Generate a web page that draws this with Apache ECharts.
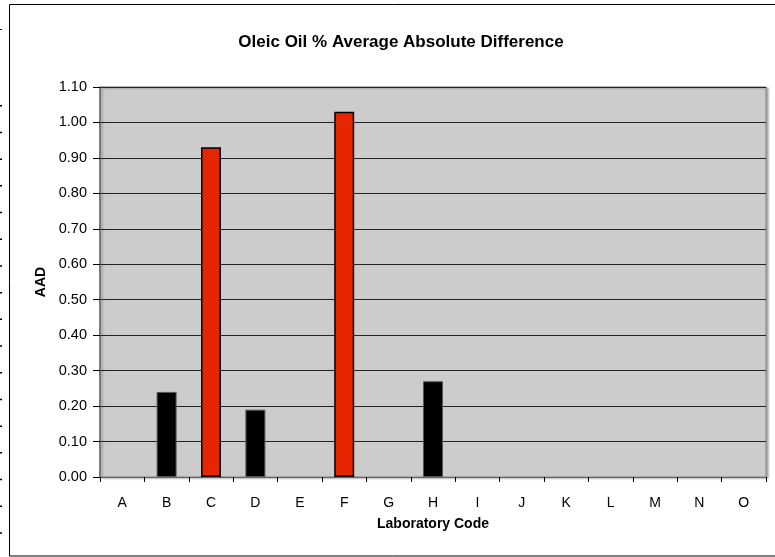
<!DOCTYPE html>
<html>
<head>
<meta charset="utf-8">
<script src="https://cdn.jsdelivr.net/npm/echarts@6/dist/echarts.min.js"></script>
<style>html,body{margin:0;padding:0;background:#fff;}#c{width:775px;height:557px;}</style>
</head>
<body>
<div id="c"></div>
<script>
var categories = ['A','B','C','D','E','F','G','H','I','J','K','L','M','N','O'];
var aadValues = [0, 0.24, 0.93, 0.19, 0, 1.03, 0, 0.27, 0, 0, 0, 0, 0, 0, 0];
var flagged = [false, false, true, false, false, true, false, false, false, false, false, false, false, false, false];

var chart = echarts.init(document.getElementById('c'));
var data = aadValues.map(function (v, i) {
  var style = flagged[i]
    ? { color: '#e62600', borderColor: '#000', borderWidth: 1.5 }
    : { color: '#000', borderColor: '#555', borderWidth: 1 };
  if (v === 0) { style.borderWidth = 0; }
  return { value: v, itemStyle: style };
});
chart.setOption({
  animation: false,
  title: {
    text: 'Oleic Oil % Average Absolute Difference',
    left: 396, top: 29, textAlign: 'center',
    textStyle: { fontFamily: 'Liberation Sans, Arial', fontSize: 17, fontWeight: 'bold', color: '#000' }
  },
  graphic: [
    { type: 'rect', shape: { x: 9.5, y: 4.5, width: 800, height: 551.5 }, style: { fill: 'none', stroke: '#000', lineWidth: 1 }, silent: true },
    { type: 'line', shape: { x1: 1, y1: 29, x2: 1, y2: 30 }, style: { stroke: '#000', lineWidth: 2 } },
    { type: 'line', shape: { x1: 1, y1: 105, x2: 1, y2: 557 }, style: { stroke: '#000', lineWidth: 2, lineDash: [1.5, 25.2] } }
  ],
  grid: {
    left: 100, right: 9, top: 87, bottom: 80,
    show: true, backgroundColor: '#cccccc', borderColor: '#888', borderWidth: 1,
    shadowColor: 'rgba(0,0,0,0.35)', shadowBlur: 2, shadowOffsetX: 2, shadowOffsetY: 1
  },
  xAxis: {
    type: 'category', data: categories,
    name: 'Laboratory Code', nameLocation: 'middle', nameGap: 40,
    nameTextStyle: { fontFamily: 'Liberation Sans, Arial', fontSize: 14, fontWeight: 'bold', color: '#000' },
    axisLine: { lineStyle: { color: '#666', width: 1 } },
    axisTick: { show: true, alignWithLabel: false, length: 5, lineStyle: { color: '#000' } },
    axisLabel: { fontFamily: 'Liberation Sans, Arial', fontSize: 14, color: '#000', margin: 19 },
    splitLine: { show: false }
  },
  yAxis: {
    type: 'value', min: 0, max: 1.1, interval: 0.1,
    name: 'AAD', nameLocation: 'middle', nameGap: 52, nameRotate: 90,
    nameTextStyle: { fontFamily: 'Liberation Sans, Arial', fontSize: 14, fontWeight: 'bold', color: '#000' },
    axisLine: { show: true, lineStyle: { color: '#666', width: 1.5 } },
    axisTick: { show: true, length: 7, inside: false, lineStyle: { color: '#000' } },
    axisLabel: { fontFamily: 'Liberation Sans, Arial', fontSize: 14.5, color: '#000', margin: 13,
      formatter: function (v) { return v.toFixed(2); } },
    splitLine: { show: true, lineStyle: { color: '#222', width: 1 } }
  },
  series: [{
    type: 'bar', data: data, barWidth: '45%'
  }]
});
</script>
</body>
</html>
